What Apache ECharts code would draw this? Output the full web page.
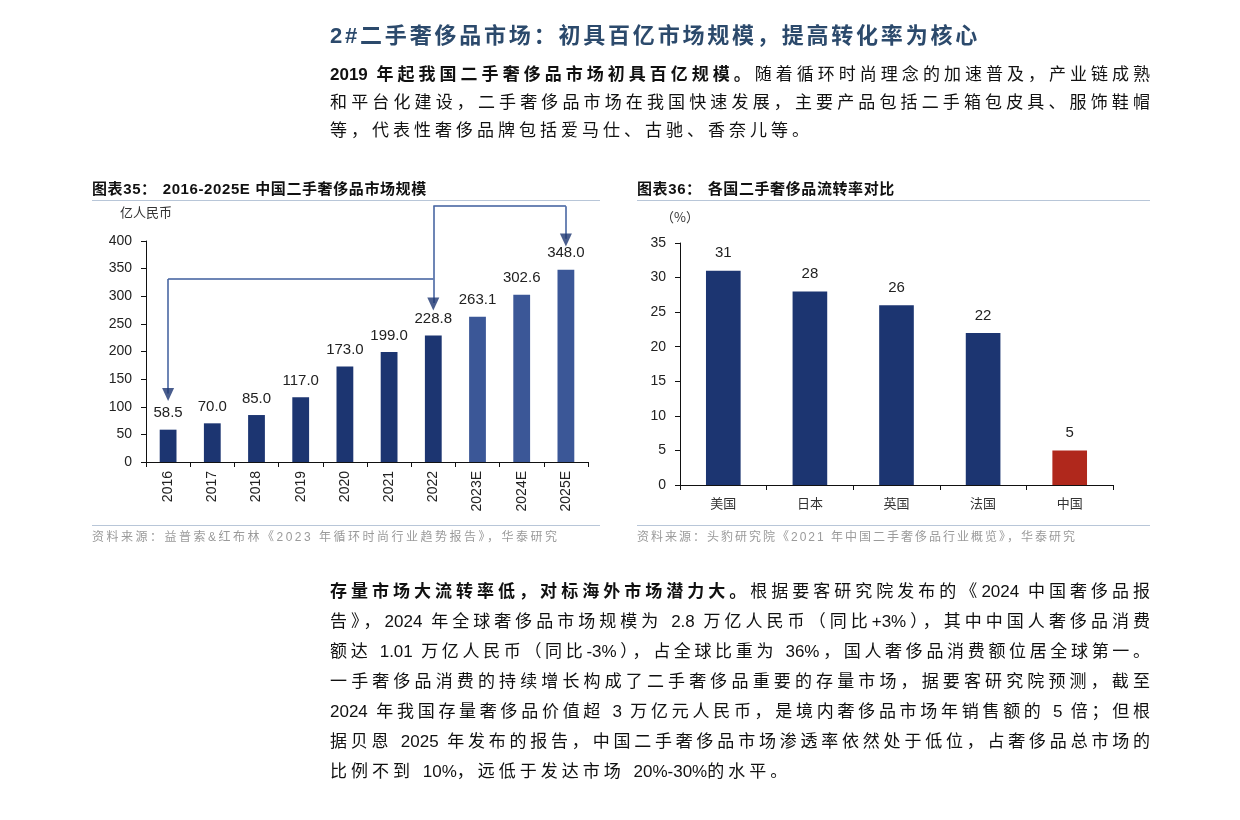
<!DOCTYPE html>
<html>
<head>
<meta charset="utf-8">
<script src="https://cdn.jsdelivr.net/npm/echarts@6/dist/echarts.min.js"></script>
<style>
    html, body {margin: 0; padding: 0; background: #fff;}
    #page {position: relative; width: 1240px; height: 820px; overflow: hidden;
        font-family: "Liberation Sans", "Noto Sans CJK SC", sans-serif; color: #111;}
    #chart {position: absolute; left: 0; top: 0; width: 1240px; height: 820px;}
    .abs {position: absolute; white-space: nowrap;}
    .heading {left: 330px; top: 22px; font-size: 22px; line-height: 28px; font-weight: bold;
        color: #2c4a6c; letter-spacing: 2.8px;}
    .para {position: absolute; left: 330px; width: 820px; font-size: 17px;}
    .para div {text-align: justify; text-align-last: justify;}
    .para div.last {text-align-last: left; letter-spacing: 4px;}
    .para div.last i {font-style: normal; letter-spacing: 0;}
    .p1 {top: 61px; line-height: 28px;}
    .p2 {top: 577px; line-height: 30px;}
    .ctitle {top: 180px; font-size: 15px; line-height: 17px; font-weight: bold; letter-spacing: 0.6px; color: #111;}
    .ctitle span {margin-right: 6px;}
    .sep {position: absolute; height: 0; border-top: 1.5px solid #b8c6d8;}
    .src {top: 530px; font-size: 12px; line-height: 14px; color: #9a9a9a; letter-spacing: 2px;}
</style>
</head>
<body>
<div id="page">
    <div id="chart"></div>

    <div class="abs heading">2#二手奢侈品市场：初具百亿市场规模，提高转化率为核心</div>
    <div class="para p1">
        <div><b>2019 年起我国二手奢侈品市场初具百亿规模。</b>随着循环时尚理念的加速普及，产业链成熟</div>
        <div>和平台化建设，二手奢侈品市场在我国快速发展，主要产品包括二手箱包皮具、服饰鞋帽</div>
        <div class="last">等，代表性奢侈品牌包括爱马仕、古驰、香奈儿等。</div>
    </div>

    <div class="abs ctitle" style="left:92px"><span>图表35：</span>2016-2025E 中国二手奢侈品市场规模</div>
    <div class="abs ctitle" style="left:637px"><span>图表36：</span>各国二手奢侈品流转率对比</div>
    <div class="sep" style="left:92px;top:200px;width:508px"></div>
    <div class="sep" style="left:637px;top:200px;width:513px"></div>
    <div class="sep" style="left:92px;top:525px;width:508px"></div>
    <div class="sep" style="left:637px;top:525px;width:513px"></div>
    <div class="abs src" style="left:92px;letter-spacing:2.5px">资料来源：益普索&amp;红布林《2023 年循环时尚行业趋势报告》，华泰研究</div>
    <div class="abs src" style="left:637px">资料来源：头豹研究院《2021 年中国二手奢侈品行业概览》，华泰研究</div>

    <div class="para p2">
        <div><b>存量市场大流转率低，对标海外市场潜力大。</b>根据要客研究院发布的《2024 中国奢侈品报</div>
        <div>告》，2024 年全球奢侈品市场规模为 2.8 万亿人民币（同比+3%），其中中国人奢侈品消费</div>
        <div>额达 1.01 万亿人民币（同比-3%），占全球比重为 36%，国人奢侈品消费额位居全球第一。</div>
        <div>一手奢侈品消费的持续增长构成了二手奢侈品重要的存量市场，据要客研究院预测，截至</div>
        <div>2024 年我国存量奢侈品价值超 3 万亿元人民币，是境内奢侈品市场年销售额的 5 倍；但根</div>
        <div>据贝恩 2025 年发布的报告，中国二手奢侈品市场渗透率依然处于低位，占奢侈品总市场的</div>
        <div class="last">比例不到 <i>10%</i>，远低于发达市场 <i>20%-30%</i>的水平。</div>
    </div>
</div>
<script>
// 图表35 数据
var years = ['2016', '2017', '2018', '2019', '2020', '2021', '2022', '2023E', '2024E', '2025E'];
var marketSize = [58.5, 70.0, 85.0, 117.0, 173.0, 199.0, 228.8, 263.1, 302.6, 348.0];
var sizeTicks = [0, 50, 100, 150, 200, 250, 300, 350, 400];

// 图表36 数据
var countries = ['美国', '日本', '英国', '法国', '中国'];
var turnoverRate = [31, 28, 26, 22, 5];
var rateTicks = [0, 5, 10, 15, 20, 25, 30, 35];

var NAVY = '#1c3571';
var NAVY_E = '#3b5797';
var RED = '#b0281c';
var AXIS = '#111';
var LABEL = {fontFamily: 'Liberation Sans', fontSize: 14, color: '#222'};

// 箭头标注 (数据坐标)
var i2016 = years.indexOf('2016');
var i2022 = years.indexOf('2022');
var i2025 = years.indexOf('2025E');
var topLevel = 463, midLevel = 331;
var arrowSegs = [
    [[i2022, topLevel], [i2022, 288]],
    [[i2022, topLevel], [i2025, topLevel]],
    [[i2025, topLevel], [i2025, 404]],
    [[i2022, midLevel], [i2016, midLevel]],
    [[i2016, midLevel], [i2016, 124]]
];
var arrowHeads = [[i2022, 286], [i2025, 402], [i2016, 122]];

function valueAxis(ticks, gridIndex, name, nameGap) {
    return {
        type: 'value', gridIndex: gridIndex,
        min: ticks[0], max: ticks[ticks.length - 1], interval: ticks[1] - ticks[0],
        name: name, nameLocation: 'end', nameGap: nameGap,
        nameTextStyle: {fontFamily: 'Noto Sans CJK SC', fontSize: 13, color: '#333', align: 'center'},
        axisLine: {show: true, lineStyle: {color: AXIS, width: 1}},
        axisTick: {show: true, inside: false, length: 5, lineStyle: {color: AXIS}},
        axisLabel: Object.assign({margin: 14}, LABEL),
        splitLine: {show: false}
    };
}

var chart = echarts.init(document.getElementById('chart'), null, {renderer: 'canvas'});
chart.setOption({
    animation: false,
    grid: [
        {left: 146, top: 241, width: 442, height: 221, containLabel: false, outerBoundsMode: 'none'},
        {left: 680, top: 243, width: 433, height: 242, containLabel: false, outerBoundsMode: 'none'}
    ],
    xAxis: [
        {
            type: 'category', gridIndex: 0, data: years,
            axisLine: {lineStyle: {color: AXIS, width: 1}},
            axisTick: {show: true, alignWithLabel: false, length: 5, lineStyle: {color: AXIS}},
            axisLabel: Object.assign({rotate: 90, interval: 0, margin: 9}, LABEL)
        },
        {
            type: 'category', gridIndex: 1, data: countries,
            axisLine: {lineStyle: {color: AXIS, width: 1}},
            axisTick: {show: true, alignWithLabel: false, length: 5, lineStyle: {color: AXIS}},
            axisLabel: {interval: 0, margin: 12, fontFamily: 'Noto Sans CJK SC', fontSize: 13, color: '#333'}
        }
    ],
    yAxis: [
        valueAxis(sizeTicks, 0, '亿人民币', 22),
        valueAxis(rateTicks, 1, '（%）', 19)
    ],
    series: [
        {
            type: 'bar', xAxisIndex: 0, yAxisIndex: 0, barWidth: '38%',
            data: marketSize.map(function (v, i) {
                return {value: v, itemStyle: {color: /E$/.test(years[i]) ? NAVY_E : NAVY}};
            }),
            label: Object.assign({
                show: true, position: 'top', distance: 9,
                formatter: function (p) { return p.value.toFixed(1); }
            }, LABEL, {fontSize: 15})
        },
        {
            type: 'lines', coordinateSystem: 'cartesian2d', xAxisIndex: 0, yAxisIndex: 0,
            clip: false, silent: true, symbol: 'none',
            lineStyle: {color: '#3c5d9c', width: 1.5, opacity: 1, curveness: 0},
            data: arrowSegs.map(function (s) { return {coords: s}; })
        },
        {
            type: 'scatter', xAxisIndex: 0, yAxisIndex: 0, clip: false, silent: true,
            symbol: 'triangle', symbolRotate: 180, symbolSize: [12, 13],
            itemStyle: {color: NAVY},
            data: arrowHeads
        },
        {
            type: 'bar', xAxisIndex: 1, yAxisIndex: 1, barWidth: '40%',
            data: turnoverRate.map(function (v, i) {
                return {value: v, itemStyle: {color: countries[i] === '中国' ? RED : NAVY}};
            }),
            label: Object.assign({show: true, position: 'top', distance: 10}, LABEL, {fontSize: 15})
        }
    ]
});
</script>
</body>
</html>
